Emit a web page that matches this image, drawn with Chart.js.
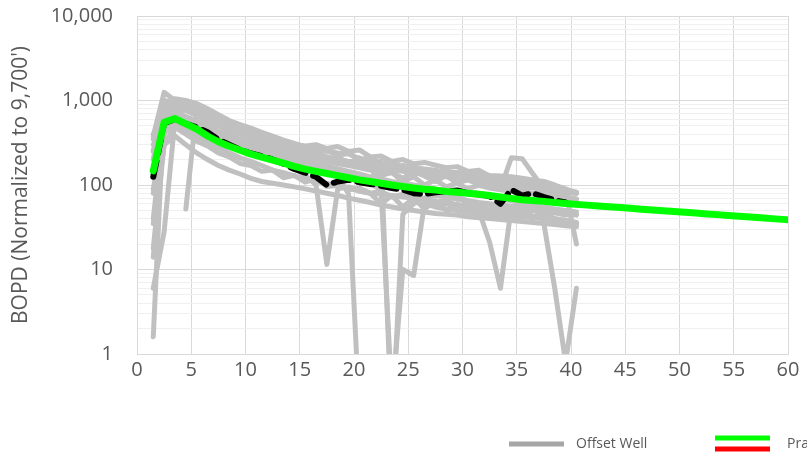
<!DOCTYPE html>
<html>
<head>
<meta charset="utf-8">
<script src="https://cdn.jsdelivr.net/npm/chart.js@4.4.1/dist/chart.umd.min.js"></script>
<style>
  html, body { margin: 0; padding: 0; background: #fff; overflow: hidden; }
  #wrap { position: relative; width: 807px; height: 455px; }
</style>
</head>
<body>
<div id="wrap"><canvas id="chart" width="807" height="455"></canvas></div>
<script>
// ============ data ============
const months = [1.5, 2.5, 3.5, 4.5, 5.5, 6.5, 7.5, 8.5, 9.5, 10.5,
  11.5, 12.5, 13.5, 14.5, 15.5, 16.5, 17.5, 18.5, 19.5, 20.5,
  21.5, 22.5, 23.5, 24.5, 25.5, 26.5, 27.5, 28.5, 29.5, 30.5,
  31.5, 32.5, 33.5, 34.5, 35.5, 36.5, 37.5, 38.5, 39.5, 40.5,
  41.5, 42.5, 43.5, 44.5, 45.5, 46.5, 47.5, 48.5, 49.5, 50.5,
  51.5, 52.5, 53.5, 54.5, 55.5, 56.5, 57.5, 58.5, 59.5, 60.5];

const yDecades = [1, 10, 100, 1000, 10000];

// type curve (green)
const typeCurve = [147, 552, 611, 530, 460, 380, 325, 288, 258, 232,
  214, 197, 181, 166, 154, 145, 137, 129, 122, 115,
  110, 105, 100, 96, 92, 89, 87, 84, 82, 80,
  77.5, 75, 72, 69.5, 67, 65.5, 64, 62, 60.5, 59,
  57.8, 56.5, 55.3, 54.1, 53, 51.8, 50.7, 49.6, 48.6, 47.5,
  46.5, 45.5, 44.6, 43.6, 42.7, 41.8, 40.9, 40, 39.2, 38.3];

// average of offset wells (black dashed)
const wellAverage = [125, 540, 600, 530, 480, 420, 345, 300, 262, 236,
  220, 200, 178, 155, 140, 125, 100, 110, 115, 108,
  103, 98, 92, 88, 80, 78, 82, 84, 86, 80,
  78, 74, 60, 88, 75, 80, 72, 66, 62];

// offset wells (grey)
const well01 = [380, 1250, 1000, 950, 850, 700, 600, 520, 470, 420, 380, 350, 320, 300, 290, 300, 270, 285, 250, 260, 215, 220, 190, 200, 178, 185, 172, 160, 165, 145, 150, 128, 122, 118, 110, 105, 100, 92, 88, 82];
const well02 = [1.6, 880, 1050, 1000, 920, 800, 680, 580, 520, 470, 420, 380, 340, 310, 285, 265, 250, 240, 235, 205, 190, 175, 165, 170, 160, 155, 150, 140, 140, 135, 125, 118, 112, 105, 100, 95, 90, 85, 82, 80];
const well03 = [6, 28, 600, 850, 760, 640, 560, 480, 410, 360, 330, 300, 280, 260, 240, 225, 210, 195, 180, 170, 160, 150, 140, 120, 145, 128, 110, 130, 105, 115, 102, 98, 92, 88, 84, 80, 75, 72, 70, 68];
const well04 = [400, 700, 750, 640, 560, 500, 430, 390, 350, 320, 290, 270, 250, 235, 220, 205, 190, 180, 170, 160, 150, 130, 140, 110, 125, 100, 115, 95, 105, 90, 100, 92, 88, 84, 80, 78, 75, 72, 70, 68];
const well05 = [80, 500, 560, 480, 420, 370, 330, 300, 270, 245, 225, 205, 185, 160, 130, 100, 11.5, 90, 95, 85, 80, 78, 75, 72, 70, 65, 62, 60, 58, 55, 52, 50, 48, 46, 45, 43, 42, 40, 38, 36];
const well06 = [300, 600, 650, 560, 480, 420, 380, 340, 300, 270, 250, 230, 210, 190, 175, 160, 150, 130, 78, 0.2];
const well07 = [40, 550, 620, 540, 460, 400, 350, 310, 280, 255, 235, 215, 200, 185, 172, 160, 150, 140, 130, 120, 112, 193, 0.13, 45, 60, 70, 75, 72, 68, 65, 62, 60, 58, 56, 54, 52, 50, 48, 46, 44];
const well08 = [14, 400, 700, 620, 520, 450, 390, 350, 310, 280, 255, 230, 210, 190, 175, 160, 150, 138, 128, 120, 110, 85, 0.3, 10, 8.5, 60, 55, 52, 50, 48, 46, 45, 44, 43, 42, 41, 40, 38, 36, 34];
const well09 = [18, 300, 500, 560, 500, 430, 380, 330, 290, 260, 235, 215, 200, 185, 170, 160, 148, 138, 130, 122, 115, 108, 100, 95, 90, 85, 80, 76, 72, 65, 50, 21, 6, 55, 60, 58, 55, 52, 50, 48];
const well10 = [350, 800, 900, 820, 720, 620, 540, 470, 420, 380, 340, 310, 280, 260, 245, 230, 215, 200, 190, 180, 170, 160, 150, 145, 140, 135, 130, 125, 120, 115, 110, 100, 90, 210, 205, 135, 90, 85, 82, 80];
const well11 = [130, 650, 720, 640, 560, 480, 420, 370, 330, 300, 270, 250, 230, 210, 195, 180, 168, 156, 145, 135, 125, 118, 110, 105, 100, 95, 90, 86, 82, 78, 75, 72, 68, 65, 62, 60, 35, 6, 0.8, 6];
const well12 = [200, 1000, 950, 900, 820, 700, 600, 530, 470, 420, 380, 340, 310, 290, 270, 240, 255, 225, 235, 200, 210, 180, 190, 160, 170, 140, 150, 130, 135, 118, 125, 108, 112, 100, 104, 92, 90, 88, 85, 20];
const well13 = [null, null, null, 52, 800, 750, 650, 560, 490, 430, 380, 340, 300, 270, 250, 230, 215, 200, 190, 180, 170, 165, 160, 155, 150, 148, 145, 142, 140, 138, 135, 130, 128, 125, 120, 115, 110, 100, 90, 80];
const well14 = [35, 300, 380, 300, 240, 200, 170, 150, 135, 120, 110, 105, 100, 95, 90, 85, 80, 75, 70, 66, 62, 58, 55, 52, 50, 48, 46, 45, 44, 42, 41, 40, 39, 38, 37, 36, 35, 34, 33, 32];
const well15 = [250, 450, 520, 450, 380, 330, 280, 240, 210, 190, 170, 150, 140, 128, 118, 110, 104, 98, 92, 85, 80, 60, 75, 55, 70, 52, 65, 50, 60, 48, 58, 45, 55, 44, 50, 42, 45, 40, 38, 35];
const well16 = [150, 750, 850, 760, 660, 560, 500, 440, 400, 360, 330, 300, 280, 265, 250, 235, 200, 215, 180, 210, 170, 180, 150, 165, 130, 150, 120, 132, 110, 128, 100, 115, 95, 105, 88, 95, 82, 78, 72, 68];
const well17 = [90, 420, 480, 400, 330, 290, 240, 215, 180, 170, 145, 150, 122, 130, 108, 118, 96, 100, 88, 92, 80, 84, 72, 78, 66, 70, 62, 66, 57, 60, 54, 58, 50, 53, 48, 50, 46, 47, 44, 45];
const well18 = [260, 560, 640, 580, 500, 430, 370, 320, 285, 250, 228, 205, 192, 175, 162, 150, 142, 132, 126, 118, 112, 106, 100, 97, 92, 90, 85, 84, 80, 79, 76, 74, 72, 70, 68, 66, 64, 62, 60, 58];

const offsetWells = [well01, well02, well03, well04, well05, well06, well07, well08, well09,
  well10, well11, well12, well13, well14, well15, well16, well17, well18];

// ============ helpers ============
const pts = arr => arr.map((v, i) => ({ x: months[i], y: v }));
const isDecade = v => yDecades.includes(v);

const yTickVals = [];
yDecades.forEach((d, i) => {
  if (i === yDecades.length - 1) { yTickVals.push(d); return; }
  for (let m = 1; m < 10; m++) yTickVals.push(d * m);
});

// legend drawn by hand (the reference legend runs off the right edge)
const bottomLegend = {
  id: 'bottomLegend',
  afterDraw(chart) {
    const c = chart.ctx;
    c.save();
    c.lineCap = 'butt';
    c.lineWidth = 5;
    c.strokeStyle = '#a6a6a6';
    c.beginPath(); c.moveTo(509, 444); c.lineTo(564, 444); c.stroke();
    c.strokeStyle = '#00ff00';
    c.beginPath(); c.moveTo(715, 438); c.lineTo(770, 438); c.stroke();
    c.strokeStyle = '#ff0000';
    c.beginPath(); c.moveTo(715, 449); c.lineTo(770, 449); c.stroke();
    c.fillStyle = '#595959';
    c.font = "14px 'Open Sans'";
    c.textBaseline = 'middle';
    c.fillText('Offset Well', 576, 444);
    c.fillText('Pra', 787, 444);
    c.restore();
  }
};

// ============ chart ============
const datasets = [
  {
    label: 'Type Curve',
    data: pts(typeCurve),
    borderColor: '#00ff00',
    borderWidth: 7,
    order: 0,
  },
  {
    label: 'Average',
    data: pts(wellAverage),
    borderColor: '#000000',
    borderWidth: 6,
    borderDash: [16, 8],
    order: 1,
  },
  ...offsetWells.map((w, i) => ({
    label: 'Offset Well ' + (i + 1),
    data: pts(w),
    borderColor: '#c0c0c0',
    borderWidth: 5,
    order: 2,
  })),
];

new Chart(document.getElementById('chart'), {
  type: 'line',
  data: { datasets },
  plugins: [bottomLegend],
  options: {
    responsive: false,
    animation: false,
    layout: { padding: { left: 4, right: 19, top: 0, bottom: 69 } },
    elements: {
      point: { radius: 0, hoverRadius: 0 },
      line: { tension: 0, borderJoinStyle: 'round', borderCapStyle: 'round', fill: false },
    },
    plugins: {
      legend: { display: false },
      tooltip: { enabled: false },
    },
    scales: {
      x: {
        type: 'linear',
        min: 0, max: 60,
        grid: { color: '#d9d9d9', drawTicks: false },
        border: { color: '#d9d9d9' },
        ticks: {
          stepSize: 5,
          padding: 4,
          color: '#595959',
          font: { family: "'Open Sans'", size: 20 },
        },
      },
      y: {
        type: 'logarithmic',
        min: 1, max: 10000,
        afterBuildTicks: s => { s.ticks = yTickVals.map(v => ({ value: v })); },
        afterFit: s => { s.width = 133; },
        grid: {
          drawTicks: true,
          tickLength: 20,
          tickColor: 'rgba(0,0,0,0)',
          color: ctx => (ctx.tick && isDecade(ctx.tick.value)) ? '#d9d9d9' : '#f0f0f0',
        },
        border: { color: '#d9d9d9' },
        ticks: {
          autoSkip: false,
          padding: 4,
          color: '#595959',
          font: { family: "'Open Sans'", size: 20 },
          callback: v => isDecade(v) ? v.toLocaleString('en-US') : '',
        },
        title: {
          display: true,
          text: "BOPD (Normalized to 9,700')",
          color: '#595959',
          font: { family: "'Open Sans'", size: 21 },
          padding: { top: 4, bottom: 4 },
        },
      },
    },
  },
});
</script>
</body>
</html>
